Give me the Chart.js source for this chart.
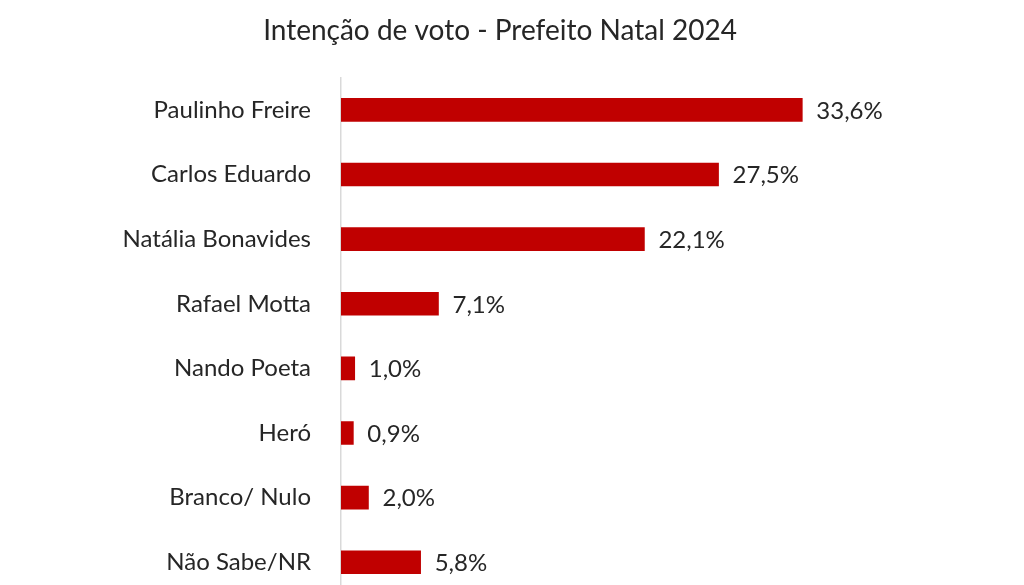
<!DOCTYPE html>
<html>
<head>
<meta charset="utf-8">
<script src="https://cdn.jsdelivr.net/npm/chart.js@4"></script>
<style>
  html, body { margin: 0; padding: 0; background: #fff; overflow: hidden; }
</style>
</head>
<body>
<canvas id="myChart" width="1024" height="631"></canvas>
<script>
const candidates = ["Paulinho Freire", "Carlos Eduardo", "Natália Bonavides", "Rafael Motta",
  "Nando Poeta", "Heró", "Branco/ Nulo", "Não Sabe/NR"];
const votes = [33.6, 27.5, 22.1, 7.1, 1.0, 0.9, 2.0, 5.8];

// draws "33,6%" next to each bar
const barLabels = {
  id: "barLabels",
  afterDatasetsDraw(chart) {
    const ctx = chart.ctx;
    const meta = chart.getDatasetMeta(0);
    ctx.save();
    ctx.font = "24px Lato";
    ctx.fillStyle = "#262626";
    ctx.textBaseline = "middle";
    meta.data.forEach((bar, i) => {
      ctx.fillText(votes[i].toFixed(1).replace(".", ",") + "%", bar.x + 14, bar.y + 1);
    });
    ctx.restore();
  }
};

new Chart(document.getElementById("myChart").getContext("2d"), {
  type: "bar",
  data: {
    labels: candidates,
    datasets: [{
      data: votes,
      backgroundColor: "#C00000",
      barThickness: 23,
    }],
  },
  options: {
    indexAxis: "y",
    responsive: false,
    animation: false,
    devicePixelRatio: 1,
    layout: { padding: { left: 0, right: 24, bottom: 9 } },
    plugins: {
      legend: { display: false },
      tooltip: { enabled: false },
      title: {
        display: true,
        text: "Intenção de voto - Prefeito Natal 2024",
        color: "#262626",
        font: { family: "Lato", size: 28, weight: "normal" },
        padding: { top: 14, bottom: 30 },
      },
    },
    scales: {
      x: { display: false, min: 0, max: 48 },
      y: {
        grid: { display: false },
        border: { display: true, color: "#d9d9d9", width: 1.5 },
        ticks: { color: "#262626", font: { family: "Lato", size: 24 }, padding: 22 },
        afterFit(scale) { scale.width = 341; },
      },
    },
  },
  plugins: [barLabels],
});
</script>
</body>
</html>
